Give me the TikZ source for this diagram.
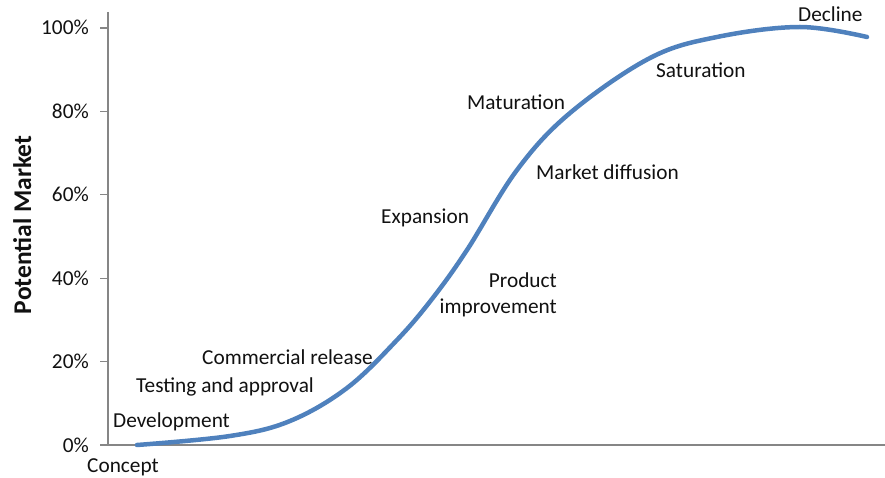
\documentclass[tikz,border=0pt]{standalone}
\usepackage{fontspec}
\setmainfont{Carlito}
\definecolor{curveblue}{HTML}{4F81BD}
\definecolor{axisgray}{HTML}{868686}
\definecolor{txt}{HTML}{111111}
\begin{document}
\begin{tikzpicture}[x=1pt,y=-1pt,
  lbl/.style={font=\fontsize{21.3}{26}\selectfont, inner sep=0pt, text=txt},
  ticklbl/.style={lbl, anchor=base east},
  axisline/.style={draw=axisgray, line width=1.4pt},
  curve/.style={draw=curveblue, line width=4.5pt, line cap=round, line join=round}]
\useasboundingbox (0,0) rectangle (885,478);
% axes
\coordinate (ytop) at (108,12);
\coordinate (origin) at (108,445);
\coordinate (xleft) at (100,445);
\coordinate (xright) at (885,445);
\draw[axisline] (ytop) -- (origin);
\draw[axisline] (xleft) -- (xright);
\foreach \v/\yy in {100/28, 80/111.4, 60/194.8, 40/278.2, 20/361.6, 0/445}{
  \draw[axisline] (100,\yy) -- (108,\yy);
  \node[ticklbl] (t\v) at (89,\yy+7) {\v\%};
}
% axis title
\node[font=\fontsize{25.5}{28}\selectfont\bfseries, text=txt, rotate=90, anchor=base, inner sep=0pt] (ytitle) at (31,225) {Potential Market};
% curve
\draw[curve] plot[smooth, tension=0.6] coordinates {
  (137,445) (230,436) (290,421) (347,388) (397,340) (432,299) (467,250)
  (517,170) (570,113) (650,58) (717,37) (800,27) (867,37)};
% labels
\node[lbl, anchor=base west] (concept) at (87,472) {Concept};
\node[lbl, anchor=base west] (dev) at (113,427) {Development};
\node[lbl, anchor=base west] (test) at (136,392) {Testing and approval};
\node[lbl, anchor=base west] (comm) at (202,364) {Commercial release};
\node[lbl, anchor=base east] (prod) at (557,287) {Product};
\node[lbl, anchor=base east] (impr) at (557,313) {improvement};
\node[lbl, anchor=base west] (exp) at (381,223) {Expansion};
\node[lbl, anchor=base west] (diff) at (536,180) {Market diffusion};
\node[lbl, anchor=base west] (mat) at (467,110) {Maturation};
\node[lbl, anchor=base west] (sat) at (656,78) {Saturation};
\node[lbl, anchor=base west] (dec) at (798,22) {Decline};
\end{tikzpicture}
\end{document}
